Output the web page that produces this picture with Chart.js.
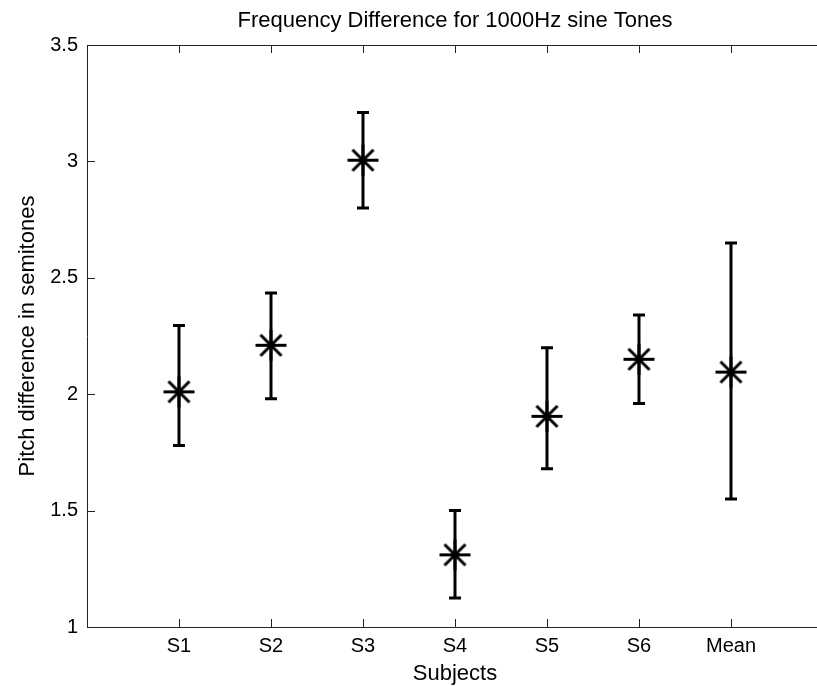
<!DOCTYPE html>
<html>
<head>
<meta charset="utf-8">
<script src="https://cdn.jsdelivr.net/npm/chart.js@4.4.1/dist/chart.umd.min.js"></script>
<style>
  html, body { margin: 0; padding: 0; background: #fff; overflow: hidden; }
  #wrap { width: 840px; height: 700px; }
</style>
</head>
<body>
<div id="wrap"><canvas id="chart" width="840" height="700"></canvas></div>
<script>
// values
const subjects = ['S1', 'S2', 'S3', 'S4', 'S5', 'S6', 'Mean'];
const pitchDiff = [2.01, 2.21, 3.005, 1.31, 1.905, 2.15, 2.095];
const errLow = [1.78, 1.98, 2.80, 1.125, 1.68, 1.96, 1.55];
const errHigh = [2.295, 2.435, 3.21, 1.50, 2.20, 2.34, 2.65];
const yTicks = [1, 1.5, 2, 2.5, 3, 3.5];

Chart.defaults.font.family = "'Liberation Sans', Arial, sans-serif";
Chart.defaults.color = '#000';

// matlab style asterisk marker
function asterisk() {
    const c = document.createElement('canvas');
    c.width = 33; c.height = 33;
    const g = c.getContext('2d');
    g.strokeStyle = '#000';
    g.lineWidth = 3;
    g.beginPath();
    g.moveTo(1, 16.5); g.lineTo(32, 16.5);
    g.moveTo(16.5, 1); g.lineTo(16.5, 32);
    g.moveTo(6, 6); g.lineTo(27, 27);
    g.moveTo(27, 6); g.lineTo(6, 27);
    g.stroke();
    return c;
}

const errorBars = {
    id: 'errorBars',
    beforeDatasetsDraw(chart) {
        const { ctx, scales: { x, y } } = chart;
        ctx.save();
        ctx.strokeStyle = '#000';
        ctx.lineWidth = 3;
        subjects.forEach((s, i) => {
            const px = x.getPixelForValue(i + 1);
            const top = y.getPixelForValue(errHigh[i]);
            const bot = y.getPixelForValue(errLow[i]);
            ctx.beginPath();
            ctx.moveTo(px, top); ctx.lineTo(px, bot);
            ctx.moveTo(px - 6, top); ctx.lineTo(px + 6, top);
            ctx.moveTo(px - 6, bot); ctx.lineTo(px + 6, bot);
            ctx.stroke();
        });
        ctx.restore();
    }
};

// top edge of the box + inward tick marks
const axesBox = {
    id: 'axesBox',
    afterDraw(chart) {
        const { ctx, chartArea: a, scales: { x, y } } = chart;
        ctx.save();
        ctx.strokeStyle = '#222';
        ctx.lineWidth = 1;
        ctx.beginPath();
        ctx.moveTo(a.left, a.top + 0.5); ctx.lineTo(a.right, a.top + 0.5);
        x.ticks.forEach(t => {
            const px = Math.round(x.getPixelForValue(t.value)) + 0.5;
            ctx.moveTo(px, a.bottom); ctx.lineTo(px, a.bottom - 8);
            ctx.moveTo(px, a.top); ctx.lineTo(px, a.top + 8);
        });
        y.ticks.forEach(t => {
            const py = Math.round(y.getPixelForValue(t.value)) + 0.5;
            ctx.moveTo(a.left, py); ctx.lineTo(a.left + 8, py);
        });
        ctx.stroke();
        ctx.restore();
    }
};

new Chart(document.getElementById('chart'), {
    type: 'scatter',
    data: {
        datasets: [{
            data: subjects.map((s, i) => ({ x: i + 1, y: pitchDiff[i] })),
            pointStyle: asterisk(),
            pointRadius: 16,
            showLine: false
        }]
    },
    options: {
        responsive: false,
        animation: false,
        layout: { padding: { left: 0, right: 11, top: 0, bottom: 0 } },
        plugins: {
            legend: { display: false },
            tooltip: { enabled: false },
            title: {
                display: true,
                text: 'Frequency Difference for 1000Hz sine Tones',
                fullSize: false,
                font: { size: 22, weight: 'normal' },
                padding: { top: 8, bottom: 10.6 }
            }
        },
        scales: {
            x: {
                type: 'linear',
                min: 0,
                max: 8,
                afterBuildTicks: s => { s.ticks = subjects.map((c, i) => ({ value: i + 1 })); },
                afterFit: s => { s.height = 73; },
                ticks: {
                    padding: 7,
                    font: { size: 20 },
                    callback: v => subjects[v - 1]
                },
                grid: { drawOnChartArea: false, drawTicks: false },
                border: { color: '#222', width: 1 },
                title: { display: true, text: 'Subjects', font: { size: 22 }, padding: { top: 2, bottom: 12.6 } }
            },
            y: {
                min: 1,
                max: 3.5,
                afterBuildTicks: s => { s.ticks = yTicks.map(v => ({ value: v })); },
                afterFit: s => { s.width = 87; },
                ticks: { padding: 9, font: { size: 20 }, callback: v => String(v) },
                grid: { drawOnChartArea: false, drawTicks: false },
                border: { color: '#222', width: 1 },
                title: { display: true, text: 'Pitch difference in semitones', font: { size: 22 }, padding: { top: 15, bottom: 0 } }
            }
        }
    },
    plugins: [errorBars, axesBox]
});
</script>
</body>
</html>
